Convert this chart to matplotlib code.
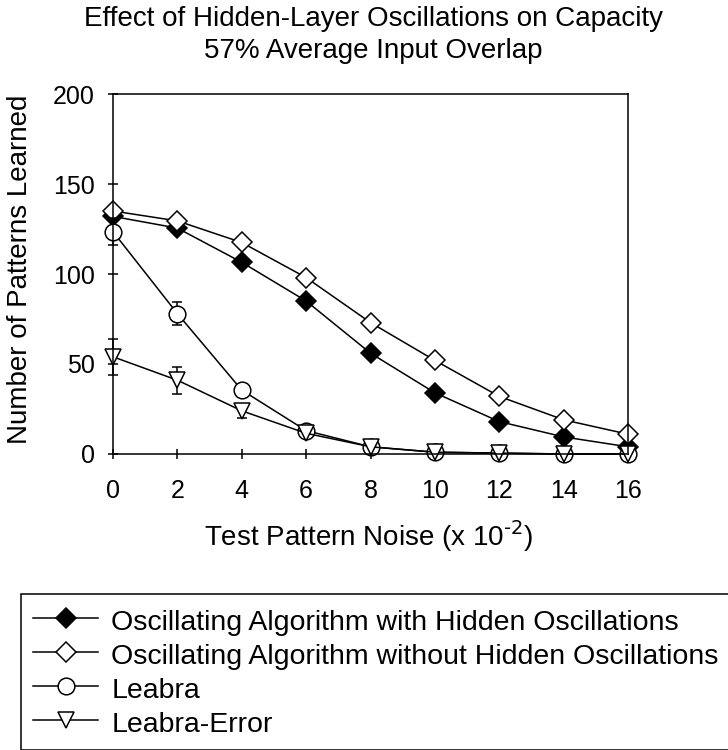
import matplotlib

matplotlib.use("Agg")
import matplotlib.pyplot as plt

plt.rcParams["font.family"] = ["Liberation Sans", "DejaVu Sans"]
plt.rcParams["mathtext.default"] = "regular"

# data
noise = [0, 2, 4, 6, 8, 10, 12, 14, 16]
osc_hidden = [132, 125.5, 106.5, 85, 56, 34, 18, 9.5, 4]
osc_no_hidden = [135, 129.5, 117.5, 98, 73, 52, 32, 19, 11]
leabra = [123.5, 78, 35.5, 13, 4, 1, 0.5, 0, 0]
leabra_err = [7.5, 6.5, 3, 1, 0.5, 0, 0, 0, 0]
leabra_error = [54, 41, 24, 11.5, 4, 1, 0.5, 0, 0]
leabra_error_err = [10, 7.5, 4, 1, 0.5, 0, 0, 0, 0]

labels = [
    "Oscillating Algorithm with Hidden Oscillations",
    "Oscillating Algorithm without Hidden Oscillations",
    "Leabra",
    "Leabra-Error",
]
xticks = list(range(0, 17, 2))
yticks = [0, 50, 100, 150, 200]

W, H = 728, 750
fig = plt.figure(figsize=(W / 100, H / 100), dpi=100)
ax = fig.add_axes([113 / W, 1 - 454 / H, 515 / W, 360 / H])

lw = 1.1
mew = 1.1
l1, = ax.plot(noise, osc_hidden, color="black", lw=lw, marker="D", ms=10,
              mfc="black", mec="black", mew=mew, clip_on=False)
l2, = ax.plot(noise, osc_no_hidden, color="black", lw=lw, marker="D", ms=10,
              mfc="white", mec="black", mew=mew, clip_on=False)
e3 = ax.errorbar(noise, leabra, yerr=leabra_err, color="black", lw=lw, marker="o", ms=12,
                 mfc="white", mec="black", mew=mew, ecolor="black", elinewidth=lw,
                 capsize=3.6, capthick=lw, clip_on=False)
e4 = ax.errorbar(noise, leabra_error, yerr=leabra_error_err, color="black", lw=lw,
                 marker="v", ms=11, mfc="white", mec="black", mew=mew, ecolor="black",
                 elinewidth=lw, capsize=3.6, capthick=lw, clip_on=False)

ax.set_xlim(0, 16)
ax.set_ylim(0, 200)
ax.set_xticks(xticks)
ax.set_yticks(yticks)
ax.tick_params(direction="inout", length=6.5, width=lw, labelsize=18, colors="black")
ax.tick_params(axis="x", pad=15)
ax.tick_params(axis="y", pad=10)
for sp in ax.spines.values():
    sp.set_linewidth(lw)
    sp.set_color("black")

ax.set_xlabel(r"Test Pattern Noise (x 10$^{\text{-2}}$)", fontsize=20)
ax.xaxis.set_label_coords(0.497, -0.18)
ax.set_ylabel("Number of Patterns Learned", fontsize=20)
ax.yaxis.set_label_coords(-0.155, 0.514)
ax.set_title("Effect of Hidden-Layer Oscillations on Capacity\n57% Average Input Overlap",
             fontsize=20, x=0.506, pad=26, linespacing=1.3)

# legend shows the plain lines, no error bars
handles = [l1, l2, e3[0], e4[0]]
leg = fig.legend(handles, labels, loc="upper left", mode="expand",
                 bbox_to_anchor=(21 / W, 1 - 594 / H, 1.0, 0), bbox_transform=fig.transFigure,
                 borderaxespad=0, fontsize=20.5, frameon=True, fancybox=False,
                 edgecolor="black", framealpha=1, borderpad=0.42, labelspacing=0.13,
                 handleheight=1.2, handlelength=2.3, handletextpad=0.45, numpoints=1)
leg.get_frame().set_linewidth(lw)

fig.savefig("out.png", dpi=100)
